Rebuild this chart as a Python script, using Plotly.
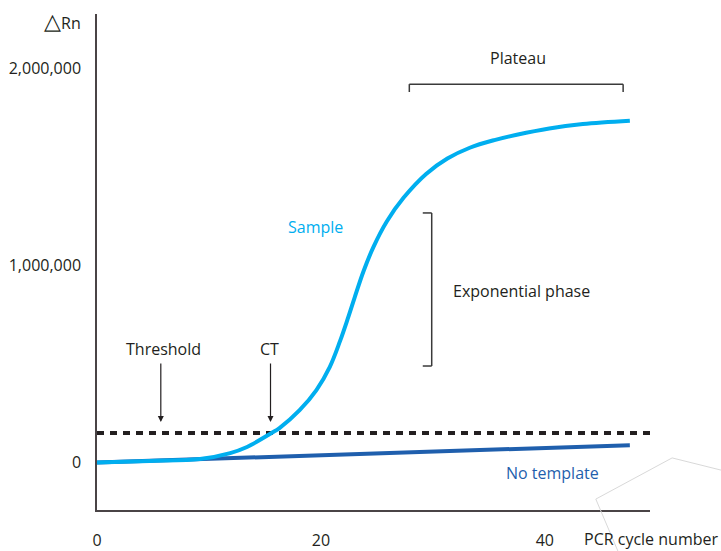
import plotly.graph_objects as go

# ---- data ----
sample_cycles = [0, 4.7, 9.2, 11.9, 13.4, 15.6, 16.3, 18.1, 19.6, 20.8, 21.7, 22.4, 23.0,
                 23.8, 24.7, 25.9, 27.4, 29.4, 31.3, 33.3, 35.5, 37.5, 40.4, 43.4, 47.6]
sample_rn = [0, 8000, 18000, 48000, 79000, 150000, 175000, 266000, 368000, 486000, 615000,
             730000, 835000, 970000, 1095000, 1225000, 1345000, 1465000, 1543000, 1598000,
             1637000, 1664000, 1696000, 1718000, 1735000]
notemplate_cycles = [0, 47.6]
notemplate_rn = [0, 88000]
threshold_cycles = [0, 49.4]
threshold_rn = [150000, 150000]
x_tickvals = [0, 20, 40]
x_ticktext = ["0", "20", "40"]
y_tickvals = [0, 1000000, 2000000]
y_ticktext = ["0", "1,000,000", "2,000,000"]
threshold_arrow_x = 5.7
ct_x = 15.5

FONT = "Open Sans"
FS = 16
TXT = "#231f20"
SAMPLE_C = "#00aeef"
NT_C = "#1f5fad"
AX_C = "#4a4446"

fig = go.Figure()
fig.add_trace(go.Scatter(x=threshold_cycles, y=threshold_rn, mode="lines",
                         line=dict(color="#231f20", width=4, dash="7px,6px"),
                         hoverinfo="skip"))
fig.add_trace(go.Scatter(x=notemplate_cycles, y=notemplate_rn, mode="lines",
                         line=dict(color=NT_C, width=4), hoverinfo="skip"))
fig.add_trace(go.Scatter(x=sample_cycles, y=sample_rn, mode="lines",
                         line=dict(color=SAMPLE_C, width=4, shape="spline", smoothing=1.0),
                         hoverinfo="skip"))

ann = []
def txt(x, y, s, color=TXT, xanchor="center", xref="x", yref="y", size=FS):
    ann.append(dict(x=x, y=y, xref=xref, yref=yref, text=s, showarrow=False,
                    xanchor=xanchor, yanchor="middle", font=dict(family=FONT, size=size, color=color)))

txt(37.6, 2055000, "Plateau")
txt(31.6, 870000, "Exponential phase", xanchor="left")
txt(19.5, 1198000, "Sample", color=SAMPLE_C)
txt(40.7, -55000, "No template", color=NT_C)
txt(5.9, 574000, "Threshold")
txt(15.4, 574000, "CT")
txt(-0.025, 0.988, "<span style='font-size:22px'>△</span>Rn", xref="paper", yref="paper", xanchor="right")
txt(1.127, -0.058, "PCR cycle number", xref="paper", yref="paper", xanchor="right")

for ax_x in [threshold_arrow_x, ct_x]:
    ann.append(dict(x=ax_x, y=206000, ax=ax_x, ay=510000, xref="x", yref="y",
                    axref="x", ayref="y", text="", showarrow=True, arrowhead=2,
                    arrowsize=1, arrowwidth=1.2, arrowcolor=TXT))

shapes = []
for (x0, y0, x1, y1) in [(27.9, 1921000, 47.0, 1921000), (27.9, 1921000, 27.9, 1881000),
                         (47.0, 1921000, 47.0, 1881000),
                         (29.9, 1267000, 29.9, 490000), (29.9, 1267000, 29.1, 1267000),
                         (29.9, 490000, 29.1, 490000)]:
    shapes.append(dict(type="line", xref="x", yref="y", x0=x0, y0=y0, x1=x1, y1=y1,
                       line=dict(color="#3a3a3a", width=1.5)))
for (x0, y0, x1, y1) in [(0.902, 0.022, 1.040, 0.105), (1.040, 0.105, 1.13, 0.08),
                         (0.902, 0.022, 0.942, -0.083)]:
    shapes.append(dict(type="line", xref="paper", yref="paper", x0=x0, y0=y0, x1=x1, y1=y1,
                       line=dict(color="#d9d9d9", width=1)))

fig.update_layout(
    width=721, height=551,
    margin=dict(l=97, r=71, t=14, b=41, autoexpand=False),
    paper_bgcolor="white", plot_bgcolor="white",
    showlegend=False,
    annotations=ann, shapes=shapes,
    font=dict(family=FONT, size=FS, color=TXT),
    xaxis=dict(range=[0, 49.4], showgrid=False, zeroline=False, showline=True,
               linecolor=AX_C, linewidth=1.5, ticks="", tickvals=x_tickvals,
               ticktext=x_ticktext, ticklabelstandoff=15, automargin=False,
               tickfont=dict(family=FONT, size=FS, color=TXT)),
    yaxis=dict(range=[-241000, 2277000], showgrid=False, zeroline=False, showline=True,
               linecolor=AX_C, linewidth=1.5, ticks="", tickvals=y_tickvals,
               ticktext=y_ticktext, ticklabelstandoff=11, automargin=False,
               tickfont=dict(family=FONT, size=FS, color=TXT)),
)

fig.write_html("out.html", config={"displayModeBar": False},
               post_script="document.body.style.margin='0';document.body.style.overflow='hidden';")
